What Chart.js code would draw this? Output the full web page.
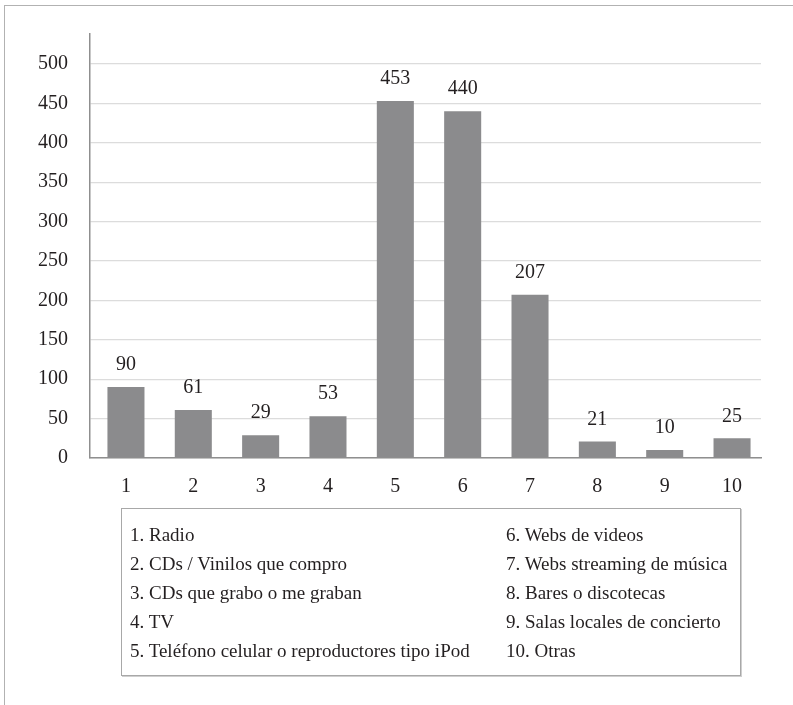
<!DOCTYPE html>
<html>
<head>
<meta charset="utf-8">
<script src="https://cdn.jsdelivr.net/npm/chart.js@4.4.1/dist/chart.umd.min.js"></script>
<style>
  html, body { margin: 0; padding: 0; background: #fff; }
  #wrap { position: relative; width: 793px; height: 705px; overflow: hidden; }
  #frame { position: absolute; left: 4px; top: 5px; width: 800px; height: 710px;
           border-top: 1.5px solid #b2b2b2; border-left: 1.5px solid #b2b2b2; }
  #chart { position: absolute; left: 0; top: 0; }
  #key { position: absolute; left: 121px; top: 508px; width: 618px; height: 166px;
         border: 1px solid #a8a8a8; box-shadow: 1px 1px 0 #cfcfcf;
         font-family: 'Liberation Serif', serif; font-size: 19px; color: #231f20; }
  #key .item { position: absolute; line-height: 29px; white-space: nowrap; }
</style>
</head>
<body>
<div id="wrap">
  <div id="frame"></div>
  <canvas id="chart" width="793" height="705"></canvas>
  <div id="key"></div>
</div>
<script>
// Media used to listen to music: number of mentions per source
const categories = ['1', '2', '3', '4', '5', '6', '7', '8', '9', '10'];
const mentions = [90, 61, 29, 53, 453, 440, 207, 21, 10, 25];
const yTicks = [0, 50, 100, 150, 200, 250, 300, 350, 400, 450, 500];
const sourceNames = [
  '1. Radio',
  '2. CDs / Vinilos que compro',
  '3. CDs que grabo o me graban',
  '4. TV',
  '5. Teléfono celular o reproductores tipo iPod',
  '6. Webs de videos',
  '7. Webs streaming de música',
  '8. Bares o discotecas',
  '9. Salas locales de concierto',
  '10. Otras'
];

const FONT = "'Liberation Serif', serif";
const INK = '#231f20';

// Key box below the chart: two columns of five entries
const key = document.getElementById('key');
sourceNames.forEach((name, i) => {
  const el = document.createElement('div');
  el.className = 'item';
  el.textContent = name;
  el.style.left = (i < 5 ? 8 : 384) + 'px';
  el.style.top = (11 + (i % 5) * 29) + 'px';
  key.appendChild(el);
});

// Value printed above each bar
const valueLabels = {
  id: 'valueLabels',
  afterDatasetsDraw(chart) {
    const ctx = chart.ctx;
    const meta = chart.getDatasetMeta(0);
    ctx.save();
    ctx.font = '20px ' + FONT;
    ctx.fillStyle = INK;
    ctx.textAlign = 'center';
    ctx.textBaseline = 'middle';
    meta.data.forEach((bar, i) => {
      ctx.fillText(String(mentions[i]), bar.x, bar.y - 22);
    });
    ctx.restore();
  }
};

// Bars sit at positions 1..10 on a numeric x axis
const points = categories.map((c, i) => ({ x: i + 1, y: mentions[i] }));

new Chart(document.getElementById('chart'), {
  type: 'bar',
  data: {
    datasets: [{
      data: points,
      backgroundColor: '#8b8b8d',
      borderWidth: 0,
      barPercentage: 0.55,
      categoryPercentage: 1.0
    }]
  },
  options: {
    responsive: false,
    animation: false,
    devicePixelRatio: 1,
    layout: { padding: { left: 0, top: 33, right: 32, bottom: 0 } },
    plugins: { legend: { display: false }, tooltip: { enabled: false } },
    scales: {
      x: {
        type: 'linear',
        min: 0.466,
        max: 10.43,
        offset: false,
        afterBuildTicks(scale) { scale.ticks = categories.map((c, i) => ({ value: i + 1 })); },
        grid: { display: false },
        border: { display: true, color: '#8f8f8f', width: 1.5 },
        ticks: {
          color: INK, font: { family: FONT, size: 20 }, padding: 9, maxRotation: 0,
          callback: (v) => categories[Math.round(v) - 1]
        },
        afterFit(scale) { scale.height = 705 - 458; }
      },
      y: {
        min: 0,
        max: 538,
        afterBuildTicks(scale) { scale.ticks = yTicks.map(v => ({ value: v })); },
        afterFit(scale) { scale.width = 90; },
        grid: { color: '#dcdcdc', lineWidth: 1.2, drawTicks: false },
        border: { display: true, color: '#8f8f8f', width: 1.5 },
        ticks: { color: INK, font: { family: FONT, size: 20 }, padding: 22 }
      }
    }
  },
  plugins: [valueLabels]
});
</script>
</body>
</html>
